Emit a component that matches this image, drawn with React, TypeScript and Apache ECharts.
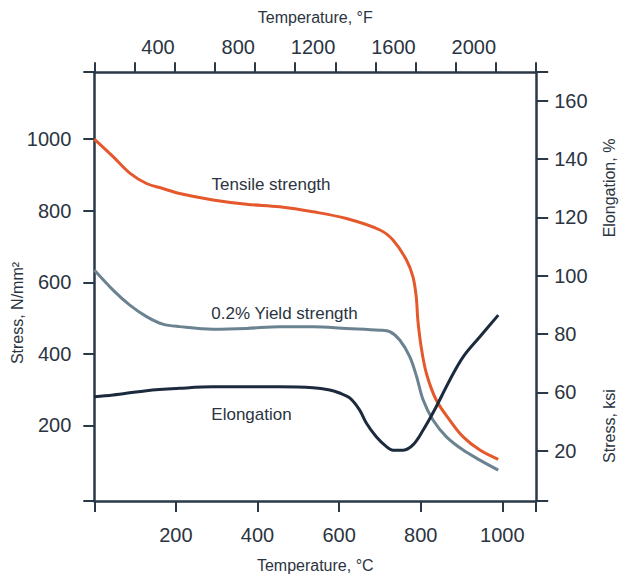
import React, { useEffect, useRef } from "react";
import * as echarts from "echarts";

// ---- data (temperature °C, value) ----
const tensileStrength: [number, number][] = [
  [0, 1000], [46, 951], [87, 905], [128, 876], [168, 862], [209, 848], [291, 830],
  [373, 818], [454, 811], [536, 797], [618, 778], [700, 746], [732, 718], [765, 662],
  [781, 615], [789, 559], [793, 494], [801, 420], [814, 345], [838, 271], [871, 215],
  [904, 168], [945, 131], [990, 105],
];
const yieldStrength: [number, number][] = [
  [0, 634], [46, 578], [87, 536], [128, 504], [168, 483], [209, 476], [291, 469],
  [373, 471], [454, 476], [536, 476], [618, 471], [700, 466], [724, 462], [749, 438],
  [773, 392], [790, 336], [806, 271], [830, 215], [863, 168], [904, 131], [945, 103],
  [990, 75],
];
// elongation, plotted on the right axis
const elongation: [number, number][] = [
  [0, 58.5], [46, 59.1], [128, 60.6], [209, 61.4], [291, 61.9], [454, 61.9], [536, 61.6],
  [577, 60.8], [601, 59.8], [626, 58.1], [650, 54], [667, 49.4], [691, 44.8], [716, 41.4],
  [732, 40.2], [757, 40.2], [781, 42], [806, 47.1], [838, 55.1], [871, 64.2], [904, 72.2],
  [945, 79.1], [990, 86.5],
];

const celsiusTicks = [200, 400, 600, 800, 1000];
const fahrenheitLabels = [400, 800, 1200, 1600, 2000];
const stressTicks = [200, 400, 600, 800, 1000];
const rightTickValues = [40, 60, 80, 100, 120, 140, 160];
const rightTickLabels = ["20", "60", "80", "100", "120", "140", "160"];

const X_MIN = 0, X_MAX = 1083;
const F_MIN = 0, F_MAX = 2200;
const L_MIN = -11, L_MAX = 1187;
const R_MIN = 22.8, R_MAX = 169.8;

const FONT = '"Liberation Sans", Arial, Helvetica, sans-serif';
const AXIS = "#2a3848";
const TEXT = "#2b3441";
const ORANGE = "#e4582b";
const GREY = "#6b8390";
const DARK = "#1b2a3d";

export default function App() {
  const ref = useRef<HTMLDivElement>(null);
  useEffect(() => {
    if (!ref.current) return;
    const chart = echarts.init(ref.current, undefined, { renderer: "svg" });
    const axisLine = { onZero: false, lineStyle: { color: AXIS, width: 2.5 } };
    const tickStyle = { color: AXIS, width: 2 };
    const plain = (v: number) => String(Math.round(v));
    const labelStyle = { fontSize: 20, color: TEXT, fontFamily: FONT };
    const nameStyle = { fontSize: 16, color: TEXT, fontFamily: FONT };
    const seriesLabel = (text: string, x: number, y: number) => ({
      type: "text",
      x,
      y,
      style: { text, align: "center", verticalAlign: "middle", fontSize: 17, fill: TEXT, fontFamily: FONT },
    });
    const vName = (text: string, x: number, y: number) => ({
      type: "text",
      x,
      y,
      rotation: Math.PI / 2,
      style: { text, align: "center", verticalAlign: "middle", fontSize: 16, fill: TEXT, fontFamily: FONT },
    });
    const line = (name: string, data: [number, number][], yAxisIndex: number, color: string) => ({
      name,
      type: "line",
      xAxisIndex: 0,
      yAxisIndex,
      data,
      smooth: 0.35,
      showSymbol: false,
      lineStyle: { color, width: 3 },
    });
    chart.setOption({
      animation: false,
      textStyle: { fontFamily: FONT },
      grid: { left: 94.3, right: 82.8, top: 72.2, bottom: 80.1 },
      xAxis: [
        {
          type: "value",
          position: "bottom",
          min: X_MIN,
          max: X_MAX,
          name: "Temperature, °C",
          nameLocation: "middle",
          nameGap: 57,
          nameTextStyle: nameStyle,
          axisLine,
          axisTick: { show: true, length: 11, lineStyle: tickStyle, customValues: [X_MIN, ...celsiusTicks, X_MAX] },
          axisLabel: { ...labelStyle, customValues: celsiusTicks, margin: 24, formatter: plain },
          splitLine: { show: false },
        },
        {
          type: "value",
          position: "top",
          min: F_MIN,
          max: F_MAX,
          interval: 200,
          name: "Temperature, °F",
          nameLocation: "middle",
          nameGap: 47,
          nameTextStyle: nameStyle,
          axisLine,
          axisTick: { show: true, length: 10, lineStyle: tickStyle },
          axisLabel: { ...labelStyle, customValues: fahrenheitLabels, align: "right", margin: 15, formatter: plain },
          splitLine: { show: false },
        },
      ],
      yAxis: [
        {
          type: "value",
          position: "left",
          min: L_MIN,
          max: L_MAX,
          axisLine,
          axisTick: { show: true, length: 11, lineStyle: tickStyle, customValues: [L_MIN, ...stressTicks, L_MAX] },
          axisLabel: { ...labelStyle, customValues: stressTicks, margin: 23, formatter: plain },
          splitLine: { show: false },
        },
        {
          type: "value",
          position: "right",
          min: R_MIN,
          max: R_MAX,
          axisLine,
          axisTick: { show: true, length: 12, lineStyle: tickStyle, customValues: [R_MIN, ...rightTickValues, R_MAX] },
          axisLabel: {
            ...labelStyle,
            customValues: rightTickValues,
            margin: 18,
            formatter: (v: number) => {
              const i = rightTickValues.indexOf(Math.round(v));
              return i >= 0 ? rightTickLabels[i] : "";
            },
          },
          splitLine: { show: false },
        },
      ],
      series: [
        line("Tensile strength", tensileStrength, 0, ORANGE),
        line("0.2% Yield strength", yieldStrength, 0, GREY),
        line("Elongation", elongation, 1, DARK),
      ],
      graphic: [
        seriesLabel("Tensile strength", 271, 184),
        seriesLabel("0.2% Yield strength", 284.5, 313),
        seriesLabel("Elongation", 251.5, 414),
        vName("Stress, N/mm²", 17.5, 313),
        vName("Elongation, %", 609, 188),
        vName("Stress, ksi", 609, 426),
      ],
    });
    return () => chart.dispose();
  }, []);
  return <div ref={ref} style={{ width: 619, height: 581, position: "absolute", left: 0, top: 0 }} />;
}
